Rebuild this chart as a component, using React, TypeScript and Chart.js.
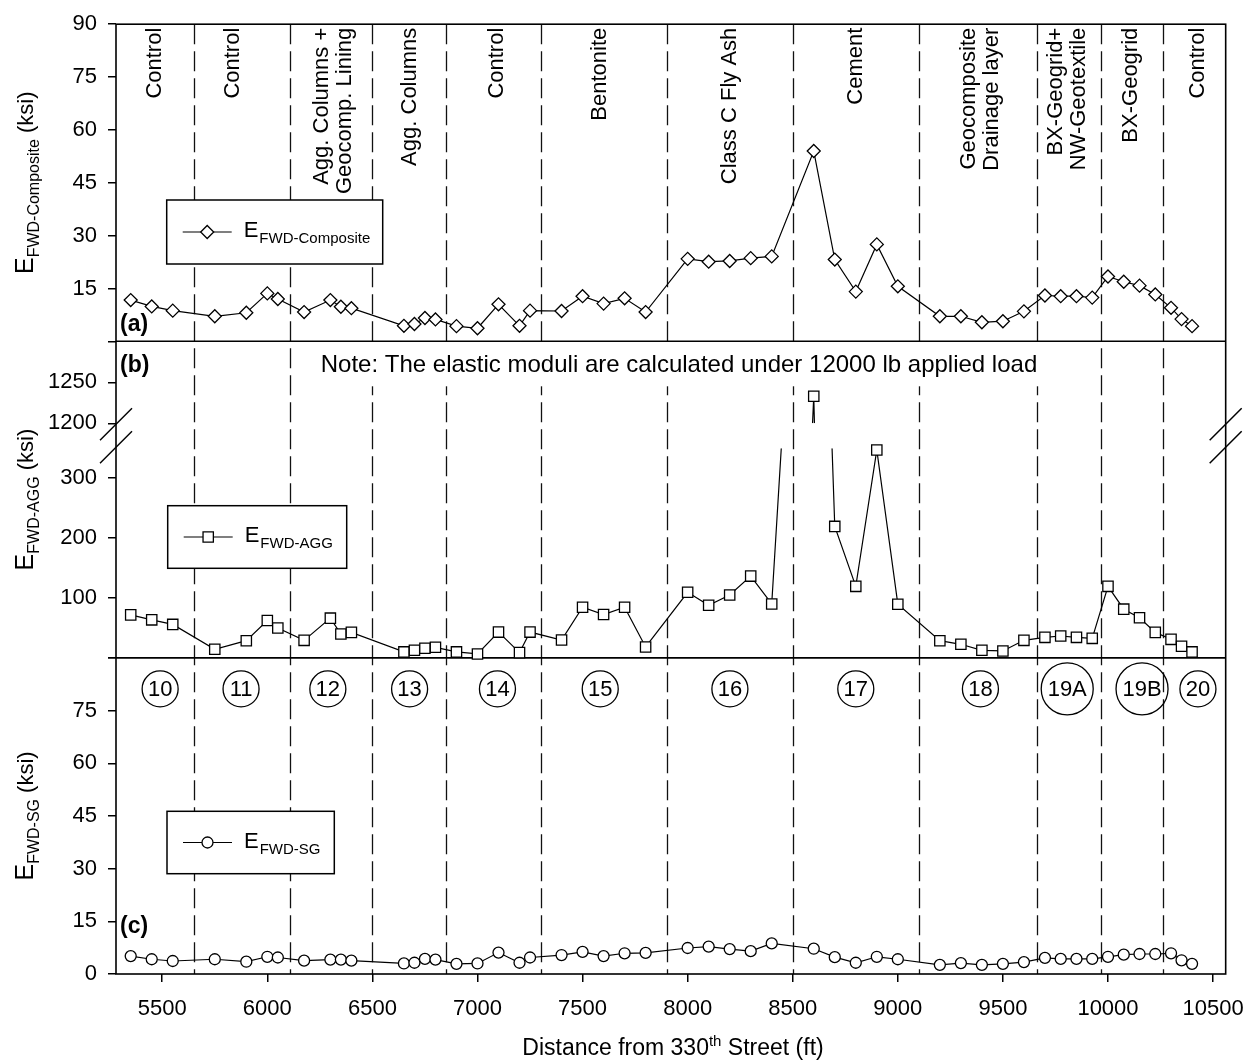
import React, { useEffect, useRef } from 'react';
import { Chart, registerables } from 'chart.js';

Chart.register(...registerables);

const FONT = '"Liberation Sans", Arial, Helvetica, sans-serif';

// ---- data ----
const distances = [5350, 5450, 5550, 5750, 5900, 6000, 6050, 6175, 6300, 6350, 6400, 6650, 6700, 6750, 6800, 6900, 7000, 7100, 7200, 7250, 7400, 7500, 7600, 7700, 7800, 8000, 8100, 8200, 8300, 8400, 8600, 8700, 8800, 8900, 9000, 9200, 9300, 9400, 9500, 9600, 9700, 9775, 9850, 9925, 10000, 10075, 10150, 10225, 10300, 10350, 10400];
const compositeKsi = [11.7, 9.9, 8.7, 7.1, 8.1, 13.6, 12.0, 8.3, 11.7, 9.8, 9.4, 4.4, 4.9, 6.6, 6.2, 4.3, 3.7, 10.5, 4.4, 8.7, 8.6, 12.8, 10.7, 12.2, 8.3, 23.4, 22.6, 22.8, 23.6, 24.1, 54.0, 23.2, 14.1, 27.5, 15.6, 7.1, 7.1, 5.4, 5.7, 8.5, 13.0, 12.8, 12.8, 12.4, 18.4, 16.9, 15.8, 13.3, 9.5, 6.3, 4.3];
const aggKsi = [71.8, 63.5, 55.9, 14.4, 28.7, 62.5, 49.8, 29.3, 66.3, 39.8, 42.6, 10, 12.7, 16.1, 17.7, 10, 6.6, 43.1, 8.8, 43.1, 29.9, 84.6, 72.4, 84.6, 18.2, 109.5, 87.9, 105, 136.5, 90, 1233, 219.4, 119.4, 347, 89.6, 28.7, 22.7, 12.7, 11.6, 29.3, 34.3, 36.5, 34.3, 32.6, 119.4, 81.3, 66.9, 42.6, 31, 19.4, 10];
const sgKsi = [5.1, 4.2, 3.7, 4.2, 3.5, 4.9, 4.7, 3.8, 4.1, 4.1, 3.8, 3.0, 3.2, 4.3, 4.1, 2.9, 3.0, 6.1, 3.2, 4.7, 5.4, 6.3, 5.1, 5.9, 6.0, 7.4, 7.8, 7.1, 6.5, 8.7, 7.2, 4.8, 3.2, 4.9, 4.2, 2.6, 3.1, 2.6, 2.9, 3.4, 4.6, 4.3, 4.3, 4.3, 4.9, 5.5, 5.7, 5.7, 5.9, 3.9, 2.9];

const xTicks = [5500, 6000, 6500, 7000, 7500, 8000, 8500, 9000, 9500, 10000, 10500];
const compositeTicks = [0, 15, 30, 45, 60, 75, 90];
const aggUpperTicks = [1200, 1250];
const aggLowerTicks = [0, 100, 200, 300];
const sgTicks = [0, 15, 30, 45, 60, 75, 90];

const sectionBoundaries = [5650, 6110, 6500, 6850, 7300, 7900, 8500, 9100, 9660, 9965, 10260];
const sectionNames = [
  ['Control'], ['Control'], ['Agg. Columns +', 'Geocomp. Lining'], ['Agg. Columns'], ['Control'],
  ['Bentonite'], ['Class C Fly Ash'], ['Cement'], ['Geocomposite', 'Drainage layer'],
  ['BX-Geogrid+', 'NW-Geotextile'], ['BX-Geogrid'], ['Control'],
];
const sectionNameAt = [5467, 5837, 6313, 6678, 7091, 7585, 8202, 8800, 9393, 9806, 10110, 10428];
const sectionIds = ['10', '11', '12', '13', '14', '15', '16', '17', '18', '19A', '19B', '20'];
const sectionIdAt = [5490, 5875, 6288, 6677, 7095, 7584, 8201, 8800, 9393, 9806, 10162, 10428];

const NOTE = 'Note: The elastic moduli are calculated under 12000 lb applied load';

const pts = (vals: number[]) => distances.map((d, i) => ({ x: d, y: vals[i] }));

function drawMarker(ctx: CanvasRenderingContext2D, style: string, x: number, y: number, r: number) {
  ctx.beginPath();
  if (style === 'rectRot') {
    ctx.moveTo(x - r, y); ctx.lineTo(x, y - r); ctx.lineTo(x + r, y); ctx.lineTo(x, y + r); ctx.closePath();
  } else if (style === 'rect') {
    const s = r * Math.SQRT1_2;
    ctx.rect(x - s, y - s, 2 * s, 2 * s);
  } else {
    ctx.arc(x, y, r, 0, Math.PI * 2);
  }
  ctx.fillStyle = '#fff';
  ctx.fill();
  ctx.lineWidth = 1.3;
  ctx.strokeStyle = '#000';
  ctx.stroke();
}

function drawLegend(ctx: CanvasRenderingContext2D, bx: number, by: number, bw: number, bh: number, style: string, r: number, sub: string) {
  ctx.save();
  ctx.fillStyle = '#fff';
  ctx.fillRect(bx, by, bw, bh);
  ctx.lineWidth = 1.5;
  ctx.strokeStyle = '#000';
  ctx.strokeRect(bx, by, bw, bh);
  const ly = by + bh / 2;
  ctx.beginPath();
  ctx.moveTo(bx + 16, ly); ctx.lineTo(bx + 65, ly);
  ctx.lineWidth = 1.2;
  ctx.stroke();
  drawMarker(ctx, style, bx + 40.5, ly, r);
  ctx.fillStyle = '#000';
  ctx.textAlign = 'left';
  ctx.textBaseline = 'alphabetic';
  ctx.font = `22px ${FONT}`;
  ctx.fillText('E', bx + 77, ly + 5);
  const w = ctx.measureText('E').width;
  ctx.font = `15px ${FONT}`;
  ctx.fillText(sub, bx + 77 + w + 1, ly + 11);
  ctx.restore();
}

function drawYTitle(ctx: CanvasRenderingContext2D, baseX: number, cy: number, sub: string) {
  ctx.save();
  ctx.translate(baseX, cy);
  ctx.rotate(-Math.PI / 2);
  ctx.fillStyle = '#000';
  ctx.textBaseline = 'alphabetic';
  ctx.textAlign = 'left';
  const parts = [
    { t: 'E', size: 25, dv: 0 },
    { t: sub, size: 16, dv: 6 },
    { t: ' (ksi)', size: 22, dv: 0 },
  ];
  let total = 0;
  const widths = parts.map((p) => {
    ctx.font = `${p.size}px ${FONT}`;
    const w = ctx.measureText(p.t).width;
    total += w;
    return w;
  });
  let u = -total / 2;
  parts.forEach((p, i) => {
    ctx.font = `${p.size}px ${FONT}`;
    ctx.fillText(p.t, u, p.dv);
    u += widths[i];
  });
  ctx.restore();
}

const axisClip = {
  id: 'axisClip',
  beforeDatasetDraw(chart: any, args: any) {
    const ds = chart.data.datasets[args.index];
    if (!ds.clipToAxis) return;
    const ys = args.meta.yScale;
    const ca = chart.chartArea;
    const ctx = chart.ctx;
    ctx.save();
    ctx.beginPath();
    ctx.rect(ca.left, ys.top, ca.right - ca.left, ys.bottom - ys.top);
    ctx.clip();
  },
  afterDatasetDraw(chart: any, args: any) {
    const ds = chart.data.datasets[args.index];
    if (!ds.clipToAxis) return;
    chart.ctx.restore();
  },
};

const decor = {
  id: 'decor',
  beforeDatasetsDraw(chart: any) {
    const { ctx, chartArea: ca, scales } = chart;
    const x = scales.x;
    ctx.save();
    ctx.strokeStyle = '#111';
    ctx.lineWidth = 1.3;
    ctx.setLineDash([20, 7]);
    sectionBoundaries.forEach((b) => {
      const px = Math.round(x.getPixelForValue(b)) + 0.5;
      ctx.beginPath();
      ctx.moveTo(px, ca.top);
      ctx.lineTo(px, ca.bottom);
      ctx.stroke();
    });
    ctx.setLineDash([]);
    ctx.strokeStyle = '#000';
    ctx.lineWidth = 1.6;
    ctx.strokeRect(ca.left, ca.top, ca.right - ca.left, ca.bottom - ca.top);
    [scales.yA.bottom, scales.yC.top].forEach((y: number) => {
      ctx.beginPath();
      ctx.moveTo(ca.left, y);
      ctx.lineTo(ca.right, y);
      ctx.stroke();
    });
    ctx.restore();
  },
  afterDraw(chart: any) {
    const { ctx, chartArea: ca, scales } = chart;
    const x = scales.x;
    ctx.save();
    ctx.fillStyle = '#000';
    ctx.strokeStyle = '#000';

    // axis break marks
    const breakY = (scales.yBup.bottom + scales.yBlo.top) / 2;
    ctx.lineWidth = 1.5;
    [ca.left, ca.right].forEach((ax: number) => {
      [-11.5, 11.5].forEach((dy) => {
        ctx.beginPath();
        ctx.moveTo(ax - 16, breakY + dy + 16);
        ctx.lineTo(ax + 16, breakY + dy - 16);
        ctx.stroke();
      });
    });

    // section names (rotated)
    ctx.font = `22px ${FONT}`;
    sectionNames.forEach((lines, i) => {
      const px = x.getPixelForValue(sectionNameAt[i]);
      ctx.save();
      ctx.translate(px, ca.top + 3.5);
      ctx.rotate(-Math.PI / 2);
      ctx.textAlign = 'right';
      ctx.textBaseline = 'middle';
      lines.forEach((ln, j) => ctx.fillText(ln, 0, (j - (lines.length - 1) / 2) * 23));
      ctx.restore();
    });

    // circled section ids
    const idY = scales.yC.top + 31;
    sectionIds.forEach((id, i) => {
      const px = x.getPixelForValue(sectionIdAt[i]);
      const r = id.length > 2 ? 26 : 18;
      ctx.beginPath();
      ctx.arc(px, idY, r, 0, Math.PI * 2);
      ctx.lineWidth = 1.3;
      ctx.stroke();
      ctx.font = `22px ${FONT}`;
      ctx.textAlign = 'center';
      ctx.textBaseline = 'middle';
      ctx.fillText(id, px, idY + 1);
    });

    // panel letters
    ctx.font = `bold 23px ${FONT}`;
    ctx.textAlign = 'left';
    ctx.textBaseline = 'alphabetic';
    ctx.fillText('(a)', ca.left + 4, scales.yA.bottom - 10.5);
    ctx.fillText('(b)', ca.left + 4, scales.yBup.top + 31);
    ctx.fillText('(c)', ca.left + 4, scales.yC.bottom - 41.5);

    // note
    ctx.font = `24px ${FONT}`;
    const nw = ctx.measureText(NOTE).width;
    const ncx = 679;
    ctx.fillStyle = '#fff';
    ctx.fillRect(ncx - nw / 2 - 6, scales.yBup.top + 1, nw + 12, 44);
    ctx.fillStyle = '#000';
    ctx.textAlign = 'center';
    ctx.fillText(NOTE, ncx, scales.yBup.top + 31);

    // legends
    drawLegend(ctx, 166.7, 200, 216, 64, 'rectRot', 6.5, 'FWD-Composite');
    drawLegend(ctx, 167.7, 505.7, 179, 62.6, 'rect', 7.3, 'FWD-AGG');
    drawLegend(ctx, 167, 811.3, 167.3, 62.4, 'circle', 5.5, 'FWD-SG');

    // y titles
    drawYTitle(ctx, 33, (scales.yA.top + scales.yA.bottom) / 2, 'FWD-Composite');
    drawYTitle(ctx, 33, (scales.yBup.top + scales.yBlo.bottom) / 2, 'FWD-AGG');
    drawYTitle(ctx, 33, (scales.yC.top + scales.yC.bottom) / 2, 'FWD-SG');

    // x title with superscript
    const xt = [
      { t: 'Distance from 330', size: 23, dy: 0 },
      { t: 'th', size: 15, dy: -9 },
      { t: ' Street (ft)', size: 23, dy: 0 },
    ];
    ctx.textAlign = 'left';
    let tw = 0;
    const ws = xt.map((p) => { ctx.font = `${p.size}px ${FONT}`; const w = ctx.measureText(p.t).width; tw += w; return w; });
    let tx = 673 - tw / 2;
    const ty = 1055;
    xt.forEach((p, i) => {
      ctx.font = `${p.size}px ${FONT}`;
      ctx.fillText(p.t, tx, ty + p.dy);
      tx += ws[i];
    });
    ctx.restore();
  },
};

const tickFont = { family: FONT, size: 22 };
const yGrid = { drawOnChartArea: false, drawTicks: true, tickLength: 8, color: '#000', lineWidth: 1.5 };
const setTicks = (arr: number[]) => (s: any) => { s.ticks = arr.map((v) => ({ value: v })); };
const yWidth = (s: any) => { s.width = 108; };
const overflow = { top: 10, bottom: 10, left: 10, right: 10 };

export default function App() {
  const ref = useRef<HTMLCanvasElement>(null);
  useEffect(() => {
    const canvas = ref.current;
    if (!canvas) return;
    const common = {
      borderColor: '#000',
      borderWidth: 1.2,
      pointBackgroundColor: '#fff',
      pointBorderColor: '#000',
      pointBorderWidth: 1.3,
      tension: 0,
      xAxisID: 'x',
    };
    const chart = new Chart(canvas, {
      type: 'line',
      data: {
        datasets: [
          { ...common, label: 'E FWD-Composite', data: pts(compositeKsi), yAxisID: 'yA', pointStyle: 'rectRot', pointRadius: 6.5, clip: overflow },
          { ...common, label: 'E FWD-AGG points', data: pts(aggKsi), yAxisID: 'yBlo', pointStyle: 'rect', pointRadius: 7.3, showLine: false, clip: overflow },
          { ...common, label: 'E FWD-AGG upper', data: pts(aggKsi), yAxisID: 'yBup', pointStyle: 'rect', pointRadius: 7.3, clip: 0, clipToAxis: true },
          { ...common, label: 'E FWD-SG', data: pts(sgKsi), yAxisID: 'yC', pointStyle: 'circle', pointRadius: 5.5, clip: overflow },
          { ...common, label: 'E FWD-AGG line', data: pts(aggKsi), yAxisID: 'yBlo', pointRadius: 0, clip: 0, clipToAxis: true },
        ] as any,
      },
      options: {
        responsive: false,
        animation: false,
        events: [],
        layout: { padding: { top: 18.5, left: 8, right: 30, bottom: 0 } },
        plugins: { legend: { display: false }, tooltip: { enabled: false } },
        scales: {
          x: {
            type: 'linear', position: 'bottom', min: 5280, max: 10560,
            afterBuildTicks: setTicks(xTicks),
            afterFit: (s: any) => { s.height = 87; },
            grid: { drawOnChartArea: false, drawTicks: true, tickLength: 8, color: '#000', lineWidth: 1.5 },
            border: { display: false },
            ticks: { font: tickFont, color: '#000', padding: 14, maxRotation: 0, autoSkip: false, callback: (v: any) => String(v) },
          },
          yA: {
            type: 'linear', position: 'left', stack: 'panels', stackWeight: 319, weight: 5, min: 0, max: 90,
            afterBuildTicks: setTicks(compositeTicks), afterFit: yWidth,
            grid: yGrid, border: { display: false },
            ticks: { font: tickFont, color: '#000', padding: 11, autoSkip: false, callback: (v: any) => (v === 0 ? '' : String(v)) },
          },
          yBup: {
            type: 'linear', position: 'left', stack: 'panels', stackWeight: 82.5, weight: 4, min: 1200, max: 1300,
            afterBuildTicks: setTicks(aggUpperTicks), afterFit: yWidth,
            grid: yGrid, border: { display: false },
            ticks: { font: tickFont, color: '#000', padding: 11, autoSkip: false, callback: (v: any) => String(v) },
          },
          ySp: {
            type: 'linear', position: 'left', stack: 'panels', stackWeight: 25, weight: 3, min: 0, max: 1,
            display: false, afterFit: yWidth,
          },
          yBlo: {
            type: 'linear', position: 'left', stack: 'panels', stackWeight: 211, weight: 2, min: 0, max: 350,
            afterBuildTicks: setTicks(aggLowerTicks), afterFit: yWidth,
            grid: yGrid, border: { display: false },
            ticks: { font: tickFont, color: '#000', padding: 11, autoSkip: false, callback: (v: any) => (v === 0 ? '' : String(v)) },
          },
          yC: {
            type: 'linear', position: 'left', stack: 'panels', stackWeight: 318, weight: 1, min: 0, max: 90,
            afterBuildTicks: setTicks(sgTicks), afterFit: yWidth,
            grid: yGrid, border: { display: false },
            ticks: { font: tickFont, color: '#000', padding: 11, autoSkip: false, callback: (v: any) => (v === 90 ? '' : String(v)) },
          },
        },
      } as any,
      plugins: [axisClip, decor],
    });
    return () => chart.destroy();
  }, []);
  return (
    <div style={{ position: 'absolute', left: 0, top: 0, width: 1258, height: 1061, background: '#fff' }}>
      <canvas ref={ref} width={1258} height={1061} style={{ display: 'block' }} />
    </div>
  );
}
